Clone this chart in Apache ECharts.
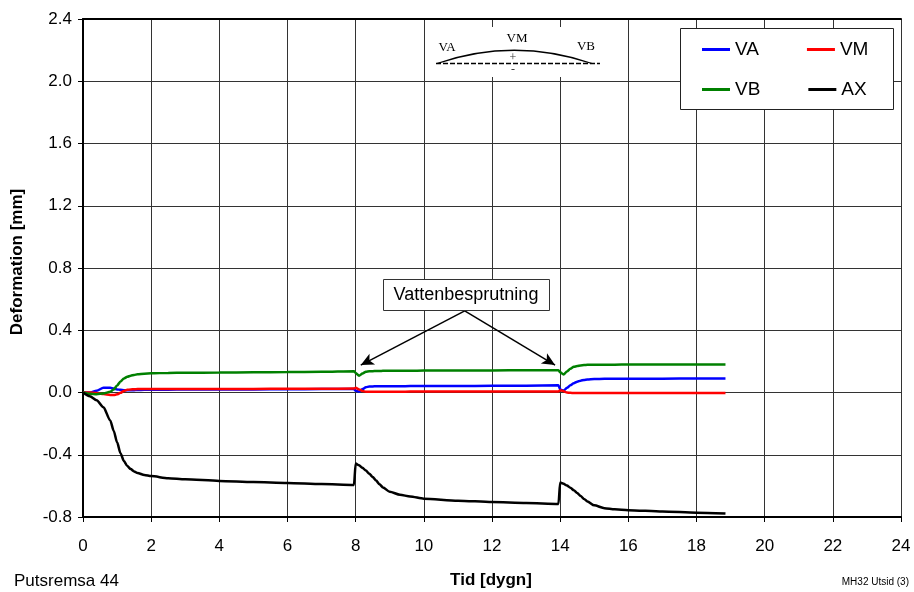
<!DOCTYPE html>
<html>
<head>
<meta charset="utf-8">
<script src="https://cdn.jsdelivr.net/npm/echarts@6/dist/echarts.min.js"></script>
<style>
html,body{margin:0;padding:0;background:#fff;}
#chart{width:914px;height:592px;}
</style>
</head>
<body>
<div id="chart"></div>
<script>
// ---- data ----
var days = [0, 0.2, 0.4, 0.6, 0.8, 0.9, 1.0, 1.1, 1.2, 1.3, 1.4, 1.5, 1.6, 1.8, 2, 2.5, 3, 4, 5, 6, 7, 7.95,
            8.0, 8.1, 8.2, 8.3, 8.4, 8.5, 8.6, 8.7, 8.8, 9.0, 9.3, 9.6, 10, 11, 12, 13, 13.95,
            14.0, 14.1, 14.2, 14.3, 14.4, 14.5, 14.6, 14.7, 14.8, 15.0, 15.3, 15.6, 16, 17, 18, 18.85];

var vaVals = [0, 0.0, 0.012, 0.03, 0.03, 0.025, 0.02, 0.017, 0.015, 0.015, 0.015, 0.015, 0.016, 0.017, 0.018, 0.018, 0.019, 0.02, 0.02, 0.021, 0.022, 0.022,
              0.012, 0.006, 0.022, 0.034, 0.038, 0.039, 0.04, 0.04, 0.04, 0.04, 0.04, 0.041, 0.041, 0.042, 0.043, 0.044, 0.046,
              0.02, 0.012, 0.03, 0.047, 0.06, 0.069, 0.076, 0.081, 0.084, 0.087, 0.088, 0.088, 0.088, 0.089, 0.09, 0.09];

var vmVals = [0, 0.0, -0.003, -0.01, -0.016, -0.016, -0.012, -0.002, 0.01, 0.017, 0.02, 0.021, 0.022, 0.022, 0.022, 0.022, 0.022, 0.023, 0.023, 0.024, 0.024, 0.025,
              0.03, 0.02, 0.01, 0.005, 0.005, 0.005, 0.005, 0.005, 0.005, 0.005, 0.005, 0.006, 0.006, 0.006, 0.007, 0.007, 0.007,
              0.015, 0.008, 0.0, -0.002, -0.003, -0.003, -0.003, -0.003, -0.003, -0.003, -0.003, -0.003, -0.003, -0.003, -0.003, -0.003];

var vbVals = [0, -0.008, -0.011, -0.006, 0.005, 0.02, 0.045, 0.07, 0.09, 0.101, 0.108, 0.113, 0.117, 0.121, 0.123, 0.126, 0.127, 0.128, 0.13, 0.131, 0.133, 0.137,
              0.125, 0.108, 0.122, 0.133, 0.136, 0.137, 0.138, 0.138, 0.139, 0.139, 0.14, 0.14, 0.141, 0.142, 0.142, 0.143, 0.143,
              0.13, 0.116, 0.135, 0.153, 0.165, 0.17, 0.174, 0.176, 0.178, 0.178, 0.179, 0.179, 0.18, 0.18, 0.18, 0.18];

var axVals = [0, -0.024, -0.05, -0.095, -0.18, -0.245, -0.32, -0.39, -0.44, -0.473, -0.492, -0.507, -0.518, -0.53, -0.537, -0.551, -0.558, -0.568, -0.575, -0.581, -0.588, -0.594,
              -0.457, -0.468, -0.484, -0.502, -0.522, -0.543, -0.566, -0.59, -0.61, -0.638, -0.657, -0.668, -0.682, -0.695, -0.704, -0.71, -0.716,
              -0.579, -0.587, -0.598, -0.612, -0.628, -0.646, -0.665, -0.684, -0.70, -0.725, -0.743, -0.75, -0.756, -0.765, -0.772, -0.778];

var seriesNames = ['VA', 'VM', 'VB', 'AX'];
var seriesColors = ['#0000ff', '#ff0000', '#008000', '#000000'];

var arrowFrom = [11.2, 0.525];
var arrowTargets = [[8.15, 0.176], [13.85, 0.176]];

// ---- chart ----
var FONT = '"Liberation Sans", Arial, sans-serif';
var SERIF = '"Liberation Serif", "Times New Roman", serif';

function pairs(vals) {
  return days.map(function (d, i) { return [d, vals[i]]; });
}
var allVals = [vaVals, vmVals, vbVals, axVals];

var chart = echarts.init(document.getElementById('chart'), null, {renderer: 'canvas'});

var series = seriesNames.map(function (n, i) {
  var s = {
    name: n,
    type: 'line',
    data: pairs(allVals[i]),
    symbol: 'none',
    smooth: 0.25,
    smoothMonotone: 'x',
    lineStyle: {color: seriesColors[i], width: 2.5},
    itemStyle: {color: seriesColors[i]},
    z: 3 + i,
    animation: false
  };
  if (n === 'AX') {
    s.markLine = {
      silent: true,
      symbol: ['none', 'arrow'],
      symbolSize: [9, 13],
      label: {show: false},
      lineStyle: {color: '#000', width: 1.5, type: 'solid'},
      data: arrowTargets.map(function (t) {
        return [{coord: arrowFrom}, {coord: t}];
      })
    };
  }
  return s;
});

var option = {
  backgroundColor: '#fff',
  animation: false,
  grid: {left: 83, right: 13, top: 19, bottom: 75, outerBoundsMode: 'none', containLabel: false},
  legend: [
    {
      data: ['VA', 'VM'], left: 702, top: 40, padding: 0,
      icon: 'rect', itemWidth: 28, itemHeight: 3, itemGap: 48, z: 20,
      textStyle: {fontFamily: FONT, fontSize: 19, color: '#000'}
    },
    {
      data: ['VB', 'AX'], left: 702, top: 80, padding: 0,
      icon: 'rect', itemWidth: 28, itemHeight: 3, itemGap: 48, z: 20,
      textStyle: {fontFamily: FONT, fontSize: 19, color: '#000'}
    }
  ],
  xAxis: [
    {
      type: 'value', min: 0, max: 24, interval: 2,
      axisLine: {show: true, onZero: false, lineStyle: {color: '#000', width: 2}},
      axisTick: {show: true, length: 5, lineStyle: {color: '#000'}},
      axisLabel: {fontFamily: FONT, fontSize: 17, color: '#000', margin: 21},
      splitLine: {show: true, lineStyle: {color: '#333', width: 1}}
    },
    {
      type: 'value', min: 0, max: 24, interval: 2, position: 'top',
      axisLine: {show: true, onZero: false, lineStyle: {color: '#000', width: 2}},
      axisTick: {show: false}, axisLabel: {show: false}, splitLine: {show: false}
    }
  ],
  yAxis: {
    type: 'value', min: -0.8, max: 2.4, interval: 0.4,
    axisLine: {show: true, onZero: false, lineStyle: {color: '#000', width: 2}},
    axisTick: {show: true, length: 5, lineStyle: {color: '#000'}},
    axisLabel: {
      fontFamily: FONT, fontSize: 17, color: '#000', margin: 11,
      formatter: function (v) { return v.toFixed(1); }
    },
    splitLine: {show: true, lineStyle: {color: '#333', width: 1}}
  },
  series: series,
  graphic: [
    // axis titles
    {type: 'text', z: 11, x: 17, y: 262, rotation: Math.PI / 2,
     style: {text: 'Deformation [mm]', x: 0, y: 0, align: 'center', verticalAlign: 'middle',
      font: 'bold 17px ' + FONT, fill: '#000'}},
    {type: 'text', z: 11,
     style: {text: 'Tid [dygn]', x: 491, y: 580, align: 'center', verticalAlign: 'middle',
      font: 'bold 17px ' + FONT, fill: '#000'}},
    // legend frame
    {type: 'rect', z: 10, shape: {x: 680.5, y: 28.5, width: 213, height: 81},
     style: {fill: '#fff', stroke: '#222', lineWidth: 1}},
    // beam sketch
    {type: 'rect', z: 10, shape: {x: 426, y: 27, width: 194, height: 50},
     style: {fill: '#fff', stroke: null}},
    {type: 'bezierCurve', z: 11, shape: {x1: 437, y1: 63.5, x2: 592, y2: 63.5, cpx1: 514, cpy1: 37},
     style: {stroke: '#000', lineWidth: 1.3, fill: null}},
    {type: 'line', z: 11, shape: {x1: 436, y1: 63.5, x2: 600, y2: 63.5},
     style: {stroke: '#000', lineWidth: 1.5, lineDash: [5, 2]}},
    {type: 'text', z: 11, style: {text: 'VA', x: 447, y: 48, align: 'center', verticalAlign: 'middle',
      font: '13px ' + SERIF, fill: '#000'}},
    {type: 'text', z: 11, style: {text: 'VM', x: 517, y: 39, align: 'center', verticalAlign: 'middle',
      font: '13px ' + SERIF, fill: '#000'}},
    {type: 'text', z: 11, style: {text: 'VB', x: 586, y: 47, align: 'center', verticalAlign: 'middle',
      font: '13px ' + SERIF, fill: '#000'}},
    {type: 'text', z: 11, style: {text: '+', x: 513, y: 58, align: 'center', verticalAlign: 'middle',
      font: '12px ' + SERIF, fill: '#333'}},
    {type: 'text', z: 11, style: {text: '-', x: 513, y: 70, align: 'center', verticalAlign: 'middle',
      font: '12px ' + SERIF, fill: '#333'}},
    // annotation box
    {type: 'rect', z: 10, shape: {x: 383.5, y: 279.5, width: 166, height: 31},
     style: {fill: '#fff', stroke: '#333', lineWidth: 1}},
    {type: 'text', z: 11, style: {text: 'Vattenbesprutning', x: 466, y: 295.5, align: 'center', verticalAlign: 'middle',
      font: '18px ' + FONT, fill: '#000'}},
    // footer texts
    {type: 'text', z: 11, style: {text: 'Putsremsa 44', x: 14, y: 581, align: 'left', verticalAlign: 'middle',
      font: '17px ' + FONT, fill: '#000'}},
    {type: 'text', z: 11, style: {text: 'MH32 Utsid (3)', x: 909, y: 582, align: 'right', verticalAlign: 'middle',
      font: '10px ' + FONT, fill: '#000'}}
  ]
};
chart.setOption(option);
</script>
</body>
</html>
